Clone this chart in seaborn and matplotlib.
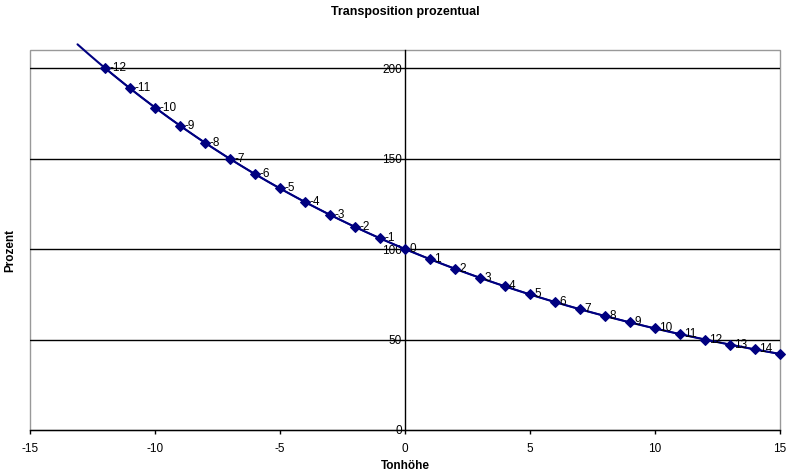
import numpy as np
import pandas as pd
import seaborn as sns
import matplotlib
matplotlib.use("Agg")
import matplotlib.pyplot as plt
from matplotlib.patches import Rectangle

# Data
semitones = [-12, -11, -10, -9, -8, -7, -6, -5, -4, -3, -2, -1, 0, 1, 2, 3, 4, 5, 6, 7, 8, 9, 10, 11, 12, 13, 14, 15]
percent = [200.0, 188.8, 178.2, 168.2, 158.7, 149.8, 141.4, 133.5, 126.0, 118.9, 112.2, 105.9,
           100.0, 94.4, 89.1, 84.1, 79.4, 74.9, 70.7, 66.7, 63.0, 59.5, 56.1, 53.0, 50.0, 47.2, 44.5, 42.0]
point_labels = [str(s) for s in semitones[:-1]] + [""]
x_ticks = [-15, -10, -5, 0, 5, 10, 15]
y_ticks = [0, 50, 100, 150, 200]

df = pd.DataFrame({"Tonhöhe": semitones, "Prozent": percent})

sns.set_style("white")
plt.rcParams["font.family"] = ["Liberation Sans", "DejaVu Sans"]
plt.rcParams["axes.unicode_minus"] = False
plt.rcParams["text.color"] = "black"
plt.rcParams["xtick.color"] = "black"
plt.rcParams["ytick.color"] = "black"

fig = plt.figure(figsize=(7.99, 4.74), dpi=100)
ax = fig.add_axes([30 / 799, 44 / 474, 750 / 799, 380 / 474])

navy = "#000080"

# exponential trendline (Excel-like, extended backward)
coef = np.polyfit(df["Tonhöhe"], np.log(df["Prozent"]), 1)
tx = np.linspace(-13.1, 15, 200)
ty = np.exp(np.polyval(coef, tx))
ax.plot(tx, ty, color=navy, lw=1.5, clip_on=False, zorder=3)

sns.lineplot(data=df, x="Tonhöhe", y="Prozent", ax=ax, color=navy, lw=1.2,
             marker="D", markersize=5, markeredgecolor=navy, zorder=4, clip_on=False)

for xv, yv, lab in zip(semitones, percent, point_labels):
    if lab:
        ax.annotate(lab, (xv, yv), xytext=(3, 0), textcoords="offset points",
                    ha="left", va="center", fontsize=8.5, color="black", zorder=5)

ax.set_xlim(-15, 15)
ax.set_ylim(0, 210)
ax.set_xticks(x_ticks)
ax.set_yticks(y_ticks)

for yv in y_ticks[1:]:
    ax.axhline(yv, color="black", lw=1, zorder=1)

# frame
ax.add_patch(Rectangle((0, 0), 1, 1, transform=ax.transAxes, fill=False,
                       edgecolor="#999999", lw=1, zorder=0, clip_on=False))
for s in ["top", "right"]:
    ax.spines[s].set_visible(False)
ax.spines["left"].set_position(("data", 0))
ax.spines["left"].set_color("black")
ax.spines["left"].set_linewidth(1)
ax.spines["bottom"].set_color("black")
ax.spines["bottom"].set_linewidth(1)

ax.tick_params(axis="x", direction="out", length=3, width=1, color="black",
               labelsize=8.5, pad=6, bottom=True)
ax.tick_params(axis="y", length=0, labelsize=8.5, pad=2, left=True)

ax.set_xlabel("")
ax.set_ylabel("")
fig.text(405 / 799, 1 - 466 / 474, "Tonhöhe", ha="center", va="center", fontsize=8.5, fontweight="bold")
fig.text(10 / 799, 1 - 250 / 474, "Prozent", ha="center", va="center", rotation=90, fontsize=8.5, fontweight="bold")
fig.text(405 / 799, 1 - 12 / 474, "Transposition prozentual", ha="center", va="center", fontsize=9, fontweight="bold")

fig.savefig("out.png", dpi=100)
